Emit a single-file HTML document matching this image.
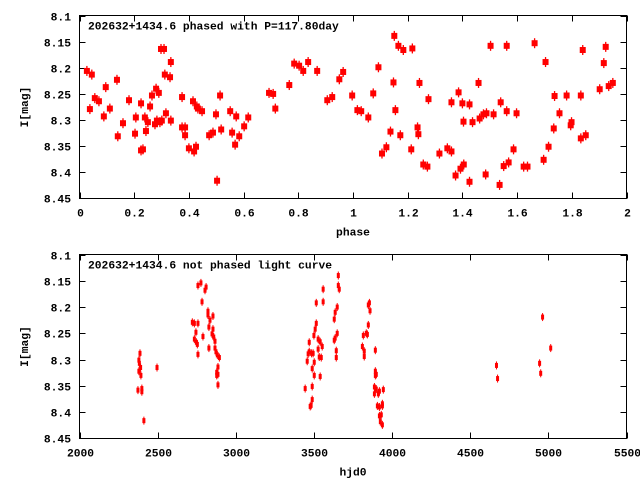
<!DOCTYPE html>
<html><head><meta charset="utf-8"><style>
body{margin:0;background:#fff}
svg{display:block}
text{font-family:"Liberation Mono","DejaVu Sans Mono",monospace;font-size:11.3px;font-weight:bold;fill:#000}
</style></head><body>
<svg id="c" width="640" height="480" xmlns="http://www.w3.org/2000/svg"></svg>
<script>
const phaseX=[.027,.045,.038,.056,.071,.089,.096,.111,.137,.140,.159,.181,.203,.206,.225,.225,.232,.239,.243,.250,.258,.265,.276,.280,.283,.290,.294,.301,.298,.309,.312,.316,.331,.334,.334,.375,.375,.386,.386,.400,.415,.419,.426,.429,.433,.448,.474,.488,.499,.503,.514,.518,.551,.558,.573,.569,.584,.602,.617,
.693,.708,.716,.767,.785,.803,.818,.836,.869,.906,.924,.950,.964,.997,1.016,1.030,1.056,1.074,1.093,1.106,1.122,1.137,1.148,1.151,1.155,1.166,1.173,1.184,1.213,1.217,1.236,1.239,1.243,1.257,1.272,1.276,1.316,
1.345,1.360,1.360,1.375,1.386,1.393,1.400,1.404,1.405,1.426,1.426,1.437,1.459,1.463,1.477,1.485,1.488,1.503,1.514,1.536,1.540,1.551,1.562,1.562,1.569,1.587,1.598,1.624,1.638,1.664,1.697,1.704,1.715,1.734,1.737,1.755,1.781,1.796,1.799,1.833,1.833,1.840,1.851,1.902,1.917,1.924,1.935,1.950];
const phaseMag=[8.206,8.213,8.279,8.258,8.264,8.293,8.237,8.278,8.223,8.331,8.306,8.262,8.326,8.295,8.268,8.358,8.356,8.295,8.321,8.304,8.274,8.253,8.308,8.240,8.301,8.248,8.304,8.301,8.164,8.164,8.213,8.287,8.218,8.189,8.301,8.256,8.314,8.314,8.329,8.354,8.264,8.360,8.351,8.274,8.278,8.283,8.329,8.324,8.289,8.416,8.253,8.318,8.283,8.324,8.293,8.347,8.331,8.312,8.295,
8.248,8.250,8.278,8.233,8.192,8.196,8.206,8.189,8.206,8.262,8.256,8.222,8.208,8.253,8.281,8.283,8.295,8.249,8.199,8.364,8.352,8.322,8.228,8.139,8.281,8.158,8.329,8.166,8.356,8.163,8.314,8.327,8.229,8.385,8.389,8.260,8.364,
8.354,8.360,8.266,8.406,8.247,8.393,8.268,8.303,8.385,8.270,8.418,8.304,8.229,8.297,8.289,8.404,8.287,8.158,8.289,8.424,8.266,8.388,8.158,8.283,8.381,8.356,8.287,8.389,8.389,8.153,8.376,8.189,8.351,8.316,8.254,8.287,8.253,8.310,8.304,8.335,8.253,8.166,8.329,8.241,8.191,8.160,8.235,8.229];
const hjd=[2387,2380,2383,2391,2380,2393,2374,2399,2399,2412,2496,
2758,2777,2810,2803,2784,2822,2822,2854,2835,2722,2735,2758,2828,2854,2745,2848,2790,2859,2735,2867,2748,2754,2828,2867,2873,2882,2895,2758,2886,2878,2878,2886,2886,
3656,3656,3662,3559,3515,3559,3649,3636,3630,3515,3508,3649,3500,3636,3630,3527,3540,3470,3553,3527,3470,3643,3485,3463,3495,3534,3547,3643,3457,3502,3489,3502,3540,3444,3489,3489,3476,3482,
3848,3855,3859,3848,3816,3835,3842,3810,3822,3822,3893,3893,3893,3899,3887,3899,3944,3887,3912,3919,3906,3919,3938,3938,3919,3931,3925,3938,
4668,4675,4944,4951,4963,5015];
const hjdMag=[8.288,8.301,8.307,8.315,8.322,8.330,8.358,8.355,8.361,8.416,8.315,
8.159,8.154,8.162,8.168,8.190,8.208,8.215,8.217,8.225,8.229,8.231,8.231,8.238,8.242,8.248,8.251,8.256,8.257,8.261,8.265,8.267,8.271,8.278,8.278,8.285,8.291,8.296,8.290,8.314,8.324,8.330,8.328,8.348,
8.140,8.159,8.166,8.166,8.192,8.190,8.200,8.210,8.223,8.231,8.242,8.250,8.254,8.259,8.263,8.261,8.266,8.267,8.275,8.280,8.285,8.283,8.288,8.289,8.288,8.295,8.296,8.296,8.303,8.305,8.317,8.330,8.332,8.355,8.351,8.376,8.389,8.387,
8.196,8.192,8.207,8.234,8.254,8.250,8.252,8.275,8.284,8.294,8.282,8.322,8.330,8.328,8.352,8.356,8.357,8.365,8.365,8.360,8.388,8.390,8.384,8.388,8.407,8.405,8.418,8.424,
8.311,8.336,8.307,8.326,8.219,8.278];
const magTicks=[8.1,8.15,8.2,8.25,8.3,8.35,8.4,8.45];
const phaseTicks=[0,0.2,0.4,0.6,0.8,1,1.2,1.4,1.6,1.8,2];
const hjdTicks=[2000,2500,3000,3500,4000,4500,5000,5500];

const svg=document.getElementById('c');
const NS='http://www.w3.org/2000/svg';
function mk(tag,at,name,parent){const e=document.createElementNS(NS,tag);for(const k in at)e.setAttribute(k,at[k]);


(parent||svg).appendChild(e);return e;}

function panel(cfg){
  const g=mk('g',{},cfg.name);
  const L=79.5,R=626.5,T=cfg.top,B=cfg.bottom;
  const sx=v=>L+(v-cfg.xmin)/(cfg.xmax-cfg.xmin)*(R-L);
  const sy=v=>T+(v-8.1)/(0.35)*(B-T);
  mk('rect',{x:L,y:T,width:R-L,height:B-T,fill:'none',stroke:'#000','stroke-width':1},'plot-frame',g);
  magTicks.forEach(v=>{const y=Math.round(sy(v))+.5;
    mk('line',{x1:L,x2:L+6,y1:y,y2:y,stroke:'#000'},'y-tick',g);
    mk('line',{x1:R-6,x2:R,y1:y,y2:y,stroke:'#000'},'y-tick-mirror',g);
    const t=mk('text',{x:71,y:y+4,'text-anchor':'end'},'y-tick-label',g);t.textContent=String(v);});
  cfg.xticks.forEach(v=>{const x=Math.round(sx(v))+.5;
    mk('line',{x1:x,x2:x,y1:B-6,y2:B,stroke:'#000'},'x-tick',g);
    mk('line',{x1:x,x2:x,y1:T,y2:T+6,stroke:'#000'},'x-tick-mirror',g);
    const t=mk('text',{x:x,y:B+18,'text-anchor':'middle'},'x-tick-label',g);t.textContent=String(v);});
  const yl=mk('text',{x:0,y:0,'text-anchor':'middle',transform:`translate(28,${(T+B)/2}) rotate(-90)`},'y-axis-title',g);yl.textContent='I[mag]';
  const xl=mk('text',{x:(L+R)/2,y:B+37,'text-anchor':'middle'},'x-axis-title',g);xl.textContent=cfg.xlabel;
  const tt=mk('text',{x:88,y:T+14},'plot-title',g);tt.textContent=cfg.title;
  cfg.xs.forEach((v,i)=>{const x=sx(v),y=sy(cfg.ys[i]);
    if(cfg.big){mk('rect',{x:x-3,y:y-3,width:6,height:6,fill:'#f00'},'data-point',g);
      mk('line',{x1:x,x2:x,y1:y-5,y2:y+5,stroke:'#f00','stroke-width':1.3},'error-bar',g);}
    else{mk('rect',{x:x-1.5,y:y-2.5,width:3,height:5,fill:'#f00'},'data-point',g);
      mk('line',{x1:x,x2:x,y1:y-4,y2:y+4,stroke:'#f00','stroke-width':1},'error-bar',g);}
  });
}
panel({name:'phased-panel',top:15.5,bottom:198.5,xmin:0,xmax:2,xticks:phaseTicks,xs:phaseX,ys:phaseMag,big:true,xlabel:'phase',title:'202632+1434.6 phased with P=117.80day'});
panel({name:'unphased-panel',top:254.5,bottom:438.5,xmin:2000,xmax:5500,xticks:hjdTicks,xs:hjd,ys:hjdMag,big:false,xlabel:'hjd0',title:'202632+1434.6 not phased light curve'});
</script>
</body></html>
